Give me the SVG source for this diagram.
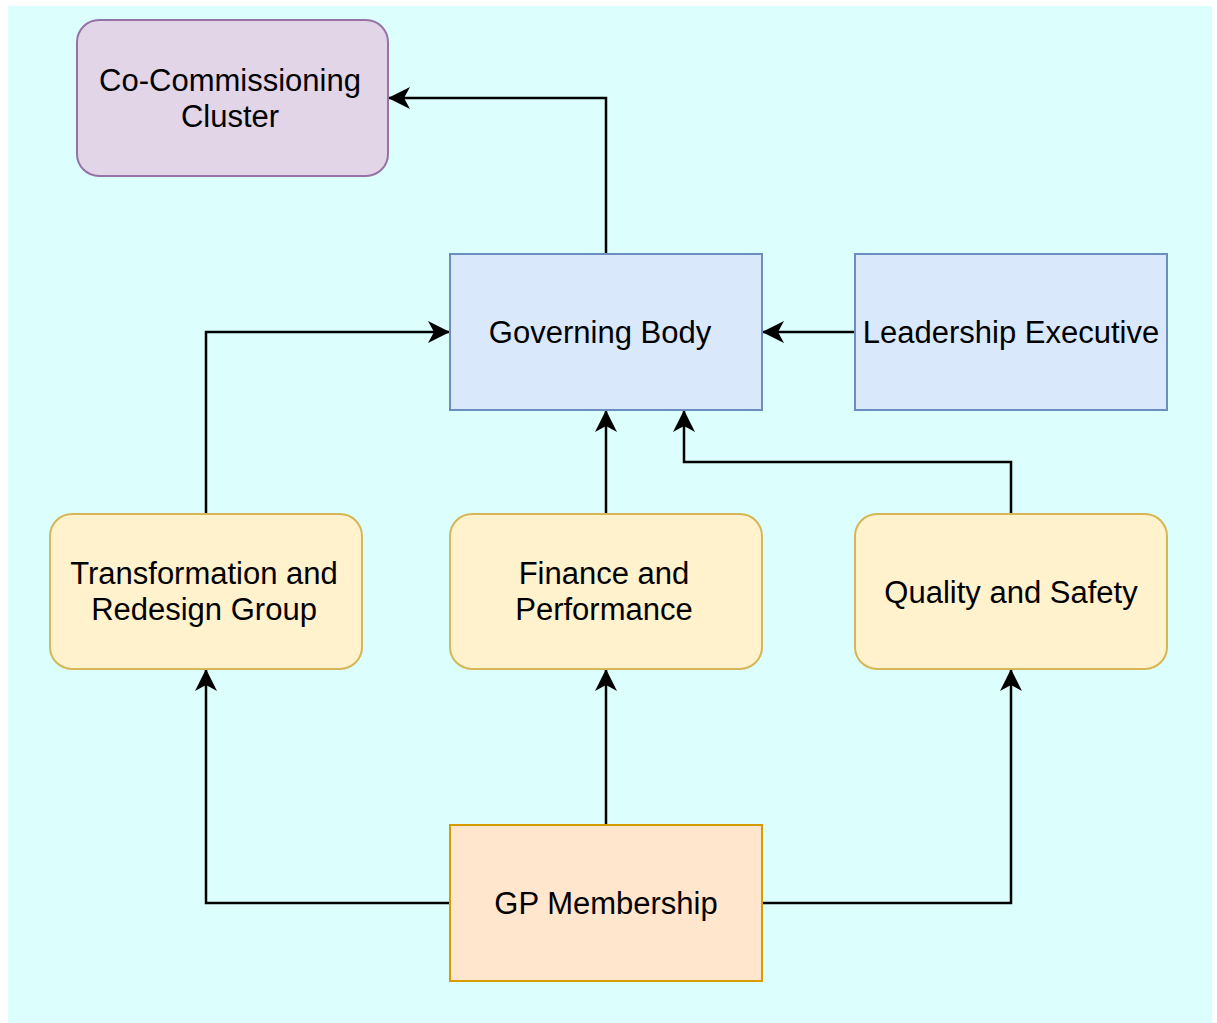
<svg xmlns="http://www.w3.org/2000/svg" width="1217" height="1023" viewBox="0 0 1217 1023">
<defs>
<style>
text{font-family:"Liberation Sans",Arial,sans-serif;font-size:31px;fill:#000;text-anchor:middle}
.purple{fill:#e1d5e7;stroke:#9673a6;stroke-width:2}
.blue{fill:#dae8fc;stroke:#6c8ebf;stroke-width:2}
.yellow{fill:#fff2cc;stroke:#d6b656;stroke-width:2}
.orange{fill:#ffe6cc;stroke:#d79b00;stroke-width:2}
.edge{fill:none;stroke:#000;stroke-width:2.5;marker-end:url(#arr)}
</style>
<marker id="arr" viewBox="0 0 22 22" refX="21" refY="11" markerWidth="22" markerHeight="22" markerUnits="userSpaceOnUse" orient="auto">
<path d="M0,0 L22,11 L0,22 L6,11 Z" fill="#000"/>
</marker>
</defs>
<rect x="8" y="6" width="1204" height="1017" fill="#dcfffd"/>
<g id="connectors">
<path class="edge" d="M606,254 V98 H389"/>
<path class="edge" d="M206,514 V332 H449"/>
<path class="edge" d="M855,332 H763"/>
<path class="edge" d="M606,514 V411"/>
<path class="edge" d="M1011,514 V462 H684 V411"/>
<path class="edge" d="M450,903 H206 V670"/>
<path class="edge" d="M606,825 V670"/>
<path class="edge" d="M762,903 H1011 V670"/>
</g>
<g id="co-commissioning">
<rect class="purple" x="77" y="20" width="311" height="156" rx="22"/>
<text x="230" y="91">Co-Commissioning</text>
<text x="230" y="127">Cluster</text>
</g>
<g id="governing-body">
<rect class="blue" x="450" y="254" width="312" height="156"/>
<text x="600" y="343">Governing Body</text>
</g>
<g id="leadership-executive">
<rect class="blue" x="855" y="254" width="312" height="156"/>
<text x="1011" y="343">Leadership Executive</text>
</g>
<g id="transformation">
<rect class="yellow" x="50" y="514" width="312" height="155" rx="22"/>
<text x="204" y="584">Transformation and</text>
<text x="204" y="620">Redesign Group</text>
</g>
<g id="finance">
<rect class="yellow" x="450" y="514" width="312" height="155" rx="22"/>
<text x="604" y="584">Finance and</text>
<text x="604" y="620">Performance</text>
</g>
<g id="quality">
<rect class="yellow" x="855" y="514" width="312" height="155" rx="22"/>
<text x="1011" y="603">Quality and Safety</text>
</g>
<g id="gp-membership">
<rect class="orange" x="450" y="825" width="312" height="156"/>
<text x="606" y="914">GP Membership</text>
</g>
</svg>
